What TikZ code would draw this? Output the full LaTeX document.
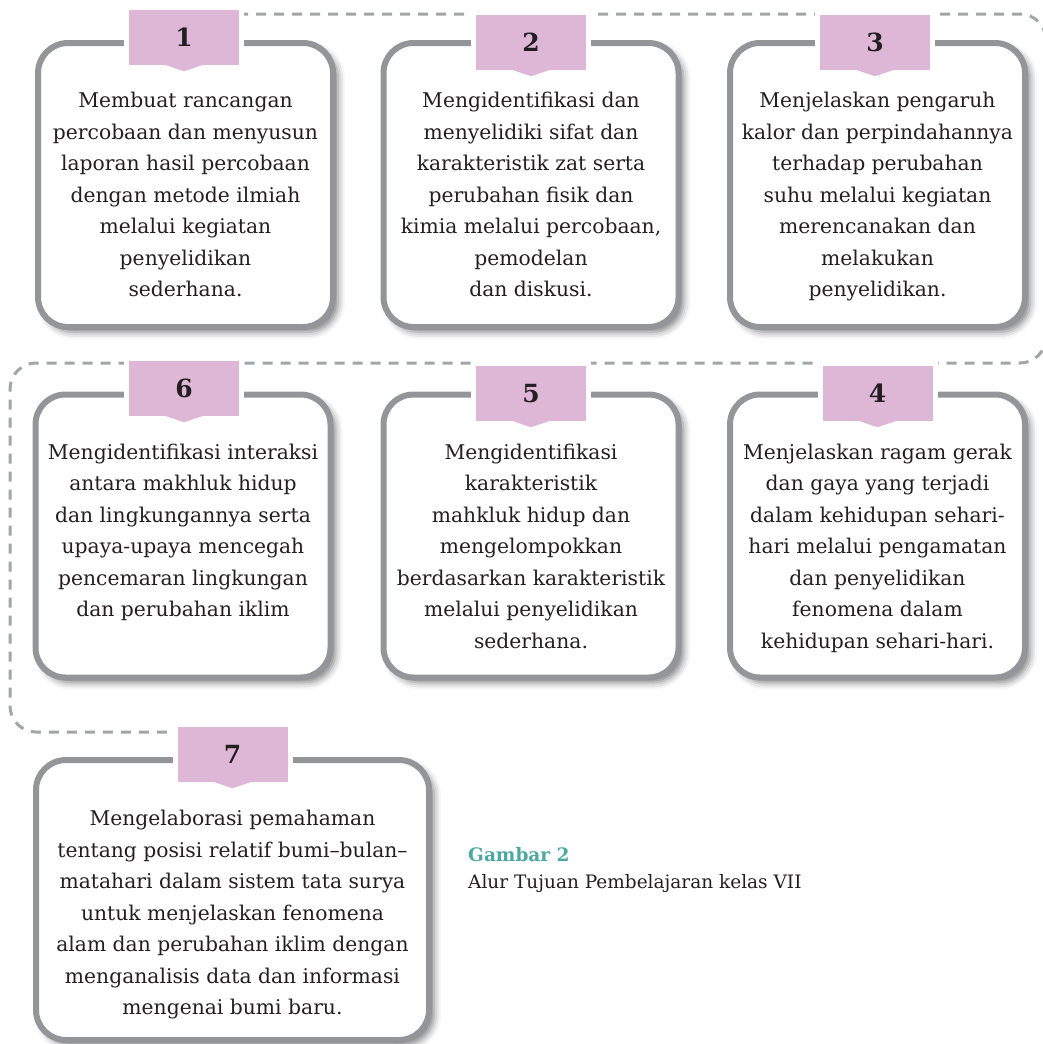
\documentclass[tikz,border=0pt]{standalone}
\usepackage{fontspec}
\setmainfont{DejaVu Serif}
\usetikzlibrary{shadows.blur}
\definecolor{framegray}{HTML}{939598}
\definecolor{dashgray}{HTML}{A2A4A7}
\definecolor{tabpink}{HTML}{DEB7D7}
\definecolor{inkdark}{HTML}{231F20}
\definecolor{capteal}{HTML}{4DA8A2}
\begin{document}
\begin{tikzpicture}[x=1pt,y=-1pt,
  card/.style={draw=framegray, line width=6pt, fill=white, rounded corners=30pt,
    inner sep=0pt, minimum width=295pt,
    blur shadow={shadow xshift=5pt, shadow yshift=-5pt, shadow blur radius=7pt, shadow opacity=50}},
  tabbox/.style={fill=tabpink, minimum width=110pt, minimum height=55pt, inner sep=0pt,
    text=inkdark, font=\fontsize{25}{25}\selectfont\bfseries,
    preaction={draw=white, line width=10pt}},
  body/.style={align=center, anchor=north, inner sep=0pt, text=inkdark,
    font=\fontsize{20.3}{31.5}\selectfont},
  flow/.style={draw=dashgray, line width=3pt, dash pattern=on 10pt off 8pt, rounded corners=26pt},
]
\useasboundingbox (0,0) rectangle (1042,1044);

% tab centres that the dashed route starts and ends on
\path (184,37.5)   coordinate (t1c);
\path (232.5,754.5) coordinate (t7c);

% dashed route linking the rows
\draw[flow] (t1c |- 0,14) -- (1046,14) -- (1046,363) -- (10,363) -- (10,732) -- (t7c |- 0,732);

% cards
\node[card, minimum height=284pt] (b1) at (185.5,185) {};
\node[card, minimum height=284pt] (b2) at (531,185) {};
\node[card, minimum height=284pt] (b3) at (877.5,185) {};
\node[card, minimum height=283pt] (b6) at (183,536) {};
\node[card, minimum height=283pt] (b5) at (531,536) {};
\node[card, minimum height=283pt] (b4) at (877.5,536) {};
\node[card, minimum height=280pt, minimum width=393pt] (b7) at (232.5,900) {};

% number tabs
\node[tabbox] (t1) at (t1c) {1};
\node[tabbox] (t2) at (531,42.5) {2};
\node[tabbox] (t3) at (875,42.5) {3};
\node[tabbox] (t6) at (184,388.5) {6};
\node[tabbox] (t5) at (531,393.5) {5};
\node[tabbox] (t4) at (877.5,393.5) {4};
\node[tabbox] (t7) at (t7c) {7};
\foreach \t in {t1,t2,t3,t4,t5,t6,t7}
  \fill[tabpink] ([xshift=-18pt]\t.south) -- ([yshift=-6pt]\t.south) -- ([xshift=18pt]\t.south) -- cycle;

% card texts
\node[body] (x1) at (185.5,92) {Membuat rancangan\\percobaan dan menyusun\\laporan hasil percobaan\\dengan metode ilmiah\\melalui kegiatan\\penyelidikan\\sederhana.};
\node[body] (x2) at (531,92) {Mengidentifikasi dan\\menyelidiki sifat dan\\karakteristik zat serta\\perubahan fisik dan\\kimia melalui percobaan,\\pemodelan\\dan diskusi.};
\node[body] (x3) at (877.5,92) {Menjelaskan pengaruh\\kalor dan perpindahannya\\terhadap perubahan\\suhu melalui kegiatan\\merencanakan dan\\melakukan\\penyelidikan.};
\node[body] (x6) at (183,443.5) {Mengidentifikasi interaksi\\antara makhluk hidup\\dan lingkungannya serta\\upaya-upaya mencegah\\pencemaran lingkungan\\dan perubahan iklim};
\node[body] (x5) at (531,443.5) {Mengidentifikasi\\karakteristik\\mahkluk hidup dan\\mengelompokkan\\berdasarkan karakteristik\\melalui penyelidikan\\sederhana.};
\node[body] (x4) at (877.5,443.5) {Menjelaskan ragam gerak\\dan gaya yang terjadi\\dalam kehidupan sehari-\\hari melalui pengamatan\\dan penyelidikan\\fenomena dalam\\kehidupan sehari-hari.};
\node[body] (x7) at (232.5,810) {Mengelaborasi pemahaman\\tentang posisi relatif bumi–bulan–\\matahari dalam sistem tata surya\\untuk menjelaskan fenomena\\alam dan perubahan iklim dengan\\menganalisis data dan informasi\\mengenai bumi baru.};

% caption
\node[anchor=west, inner sep=0pt, text=capteal, font=\fontsize{18.5}{22}\selectfont\bfseries] (cap1) at (468,855) {Gambar 2};
\node[anchor=west, inner sep=0pt, text=inkdark, font=\fontsize{18.5}{22}\selectfont] (cap2) at (468,884) {Alur Tujuan Pembelajaran kelas VII};
\end{tikzpicture}
\end{document}
